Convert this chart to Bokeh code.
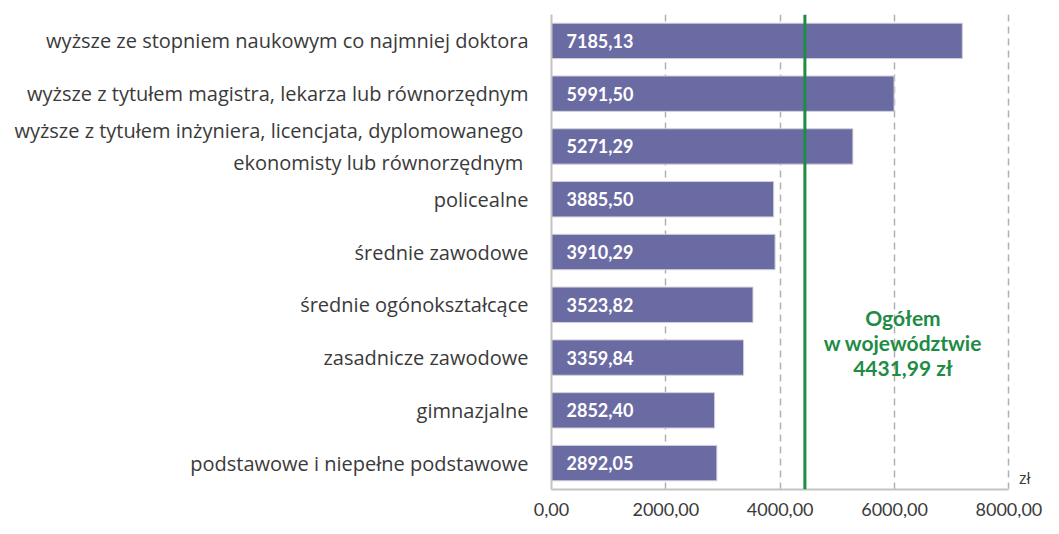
from bokeh.plotting import figure
from bokeh.models import FactorRange, Range1d, Span, FixedTicker, CustomJSTickFormatter
from bokeh.core.properties import value
from bokeh.embed import file_html
from bokeh.resources import INLINE

categories = [
    "wyższe ze stopniem naukowym co najmniej doktora",
    "wyższe z tytułem magistra, lekarza lub równorzędnym",
    "wyższe z tytułem inżyniera, licencjata,  dyplomowanego\nekonomisty  lub równorzędnym",
    "policealne",
    "średnie zawodowe",
    "średnie ogónokształcące",
    "zasadnicze zawodowe",
    "gimnazjalne",
    "podstawowe i niepełne podstawowe",
]
values = [7185.13, 5991.50, 5271.29, 3885.50, 3910.29, 3523.82, 3359.84, 2852.40, 2892.05]
value_labels = ["7185,13", "5991,50", "5271,29", "3885,50", "3910,29", "3523,82", "3359,84", "2852,40", "2892,05"]
average = 4431.99
average_label = "Ogółem\nw województwie\n4431,99 zł"
x_ticks = [0, 2000, 4000, 6000, 8000]
x_max = 8000
unit = "zł"

FONT = "Open Sans"
BFONT = "Lato"
BAR = "#6B6BA4"
GREEN = "#1E8C45"
TXT = "#3A3A3A"

p = figure(width=1043, height=518, y_range=FactorRange(*reversed(categories), range_padding=0),
           x_range=Range1d(0, 8500), output_backend="svg", toolbar_location=None,
           min_border_left=551, min_border_right=6, min_border_top=14, min_border_bottom=28)
p.outline_line_color = None
p.background_fill_color = "white"
p.border_fill_color = "white"

p.hbar(y=categories, right=values, left=0, height=0.67, fill_color=BAR,
       line_color="#D0D0D8", line_width=1)

p.text(x=[0] * len(values), y=categories, text=value_labels, x_offset=15,
       text_color="white", text_font=value(BFONT), text_font_style="bold",
       text_font_size="18px", text_baseline="middle", text_align="left")

p.add_layout(Span(location=average, dimension="height", line_color=GREEN, line_width=3))

p.text(x=[6147], y=[categories[5]], text=[average_label], y_offset=[38],
       text_color=GREEN, text_font=value(BFONT), text_font_style="bold",
       text_font_size="21px", text_baseline="middle", text_align="center",
       text_line_height=1.0)

p.text(x=[x_max], y=[categories[-1]], text=[unit], x_offset=[10], y_offset=[15],
       text_color=TXT, text_font=value(FONT), text_font_size="16px",
       text_baseline="middle", text_align="left")

p.xaxis.ticker = FixedTicker(ticks=x_ticks)
p.xaxis.bounds = (0, x_max)
p.xaxis.formatter = CustomJSTickFormatter(code="return tick.toFixed(2).replace('.', ',');")
p.xaxis.axis_line_color = "#C4C4C4"
p.xaxis.axis_line_width = 2
p.xaxis.major_tick_line_color = None
p.xaxis.minor_tick_line_color = None
p.xaxis.major_label_standoff = 7
p.xaxis.major_label_text_font = BFONT
p.xaxis.major_label_text_font_size = "18px"
p.xaxis.major_label_text_color = TXT

p.yaxis.axis_line_color = "#C4C4C4"
p.yaxis.axis_line_width = 2
p.yaxis.major_tick_line_color = None
p.yaxis.minor_tick_line_color = None
p.yaxis.major_label_standoff = 17
p.yaxis.major_label_text_font = FONT
p.yaxis.major_label_text_font_size = "20px"
p.yaxis.major_label_text_color = TXT

p.ygrid.grid_line_color = None
p.xgrid.ticker = FixedTicker(ticks=[2000, 4000, 6000, 8000])
p.xgrid.grid_line_color = "#B0B0B0"
p.xgrid.grid_line_dash = "7 5"
p.xgrid.grid_line_width = 1.5

open("out.html", "w").write(file_html(p, INLINE))
